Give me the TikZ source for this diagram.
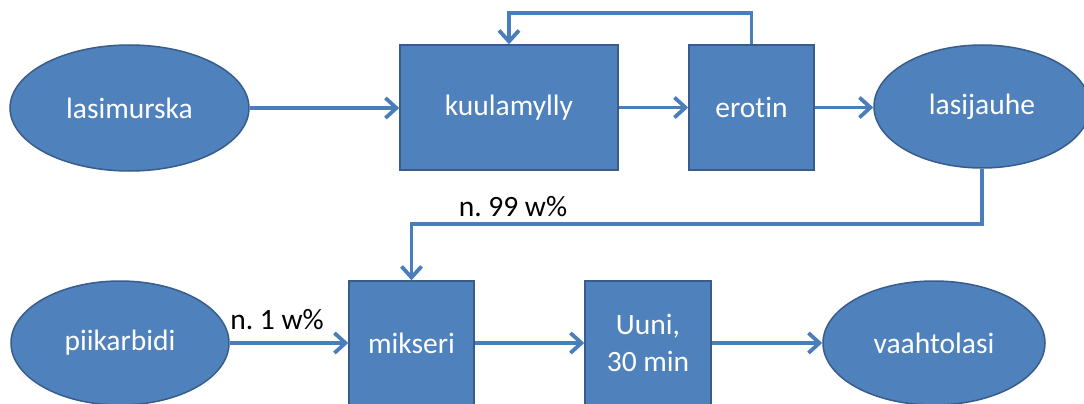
\documentclass[tikz,border=0pt]{standalone}
\usepackage{fontspec}
\setmainfont{Carlito}[Ligatures={NoCommon,NoContextual}]
\usetikzlibrary{arrows.meta,shapes.geometric}
\definecolor{boxfill}{HTML}{4F81BD}
\definecolor{boxline}{HTML}{385D8A}
\definecolor{arrowcol}{HTML}{4A7EBB}
\frenchspacing
\begin{document}
\begin{tikzpicture}[x=1pt,y=-1pt,
  base/.style={draw=boxline, fill=boxfill, line width=1.5pt, text=white,
    font=\fontsize{29.5}{37}\selectfont, align=center, inner sep=0pt},
  proc/.style={base, rectangle},
  term/.style={base, ellipse},
  lbl/.style={text=black, font=\fontsize{29.5}{36}\selectfont, inner sep=0pt},
  flow/.style={draw=arrowcol, line width=3.8pt, line join=miter,
    -{Straight Barb[length=11pt,width=20pt,line width=3.8pt]}}]
\useasboundingbox (0,0) rectangle (1084,404);
\fill[white] (0,0) rectangle (1084,404);

\node[term, minimum width=239pt, minimum height=126pt] (lasimurska) at (129.5,108) {lasimurska};
\node[proc, minimum width=218pt, minimum height=125pt] (kuulamylly) at (509,107.5) {kuulamylly};
\node[proc, minimum width=125pt, minimum height=125pt] (erotin) at (751.5,107.5) {erotin};
\node[term, minimum width=216pt, minimum height=123pt] (lasijauhe) at (982,106.5) {lasijauhe};

\node[term, minimum width=218pt, minimum height=124pt] (piikarbidi) at (120,343) {piikarbidi};
\node[proc, minimum width=125pt, minimum height=124pt] (mikseri) at (411.5,343) {mikseri};
\node[proc, minimum width=126pt, minimum height=124pt] (uuni) at (648,343) {Uuni,\\30 min};
\node[term, minimum width=222pt, minimum height=124pt] (vaahtolasi) at (934,343) {vaahtolasi};

\node[lbl] (n99) at (513,207) {n. 99 w\%};
\node[lbl] (n1) at (277,320) {n. 1 w\%};

\draw[flow] (lasimurska.east) -- (kuulamylly.west |- lasimurska.east);
\draw[flow] (kuulamylly.east) -- (erotin.west);
\draw[flow] (erotin.east) -- (lasijauhe.west |- erotin.east);
\draw[flow] (erotin.north) -- ++(0,-31) -| (kuulamylly.north);
\draw[flow] (lasijauhe.south) -- (lasijauhe.south |- 0,224) -| (mikseri.north);
\draw[flow] (piikarbidi.east) -- (mikseri.west);
\draw[flow] (mikseri.east) -- (uuni.west);
\draw[flow] (uuni.east) -- (vaahtolasi.west);
\end{tikzpicture}
\end{document}
